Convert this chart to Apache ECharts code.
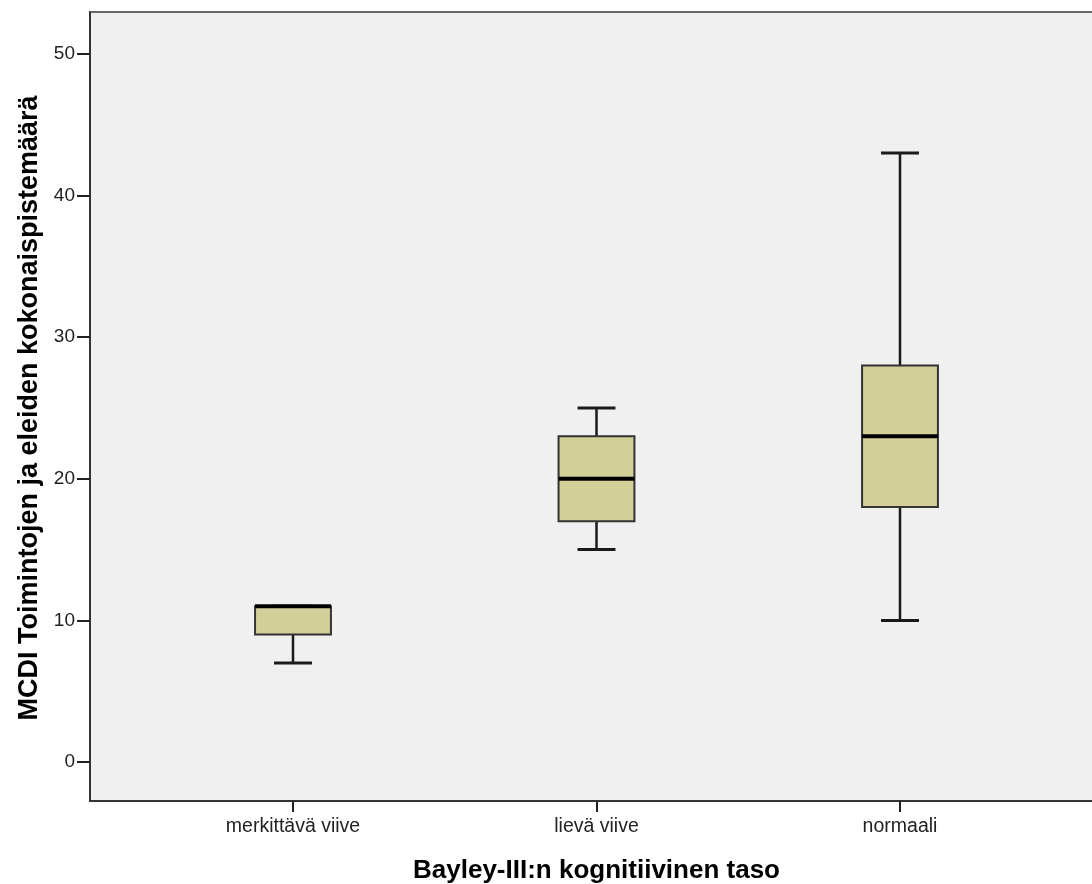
<!DOCTYPE html>
<html><head><meta charset="utf-8">
<script src="https://cdn.jsdelivr.net/npm/echarts@6/dist/echarts.min.js"></script>
<style>html,body{margin:0;padding:0;background:#fff}#c{width:1092px;height:884px}</style>
</head><body><div id="c"></div>
<script>
const categories = ['merkittävä viive', 'lievä viive', 'normaali'];
const whiskerLow = [7, 15, 10];
const quartile1 = [9, 17, 18];
const medians = [11, 20, 23];
const quartile3 = [11, 23, 28];
const whiskerHigh = [11, 25, 43];
const yMin = 0, yMax = 50, yStep = 10;
const xTitle = 'Bayley-III:n kognitiivinen taso';
const yTitle = 'MCDI Toimintojen ja eleiden kokonaispistemäärä';

const FONT = '"Liberation Sans", Arial, sans-serif';
const boxData = categories.map((c, i) => [i, whiskerLow[i], quartile1[i], medians[i], quartile3[i], whiskerHigh[i]]);

const chart = echarts.init(document.getElementById('c'), null, {renderer: 'canvas'});
chart.setOption({
  animation: false,
  backgroundColor: '#fff',
  grid: [
    {left: 90, right: -5, top: 12, bottom: 83, outerBoundsMode: 'none', containLabel: false, show: true, backgroundColor: '#F0F0F0', borderColor: '#6a6a6a', borderWidth: 2},
    {left: 141.25, right: 40.25, top: 54, bottom: 122, outerBoundsMode: 'none', containLabel: false}
  ],
  xAxis: [
    {gridIndex: 0, type: 'value', min: 0, max: 1, axisLine: {show: true, onZero: false, lineStyle: {color: '#333', width: 2}}, axisTick: {show: false}, axisLabel: {show: false}, splitLine: {show: false}},
    {gridIndex: 1, type: 'category', data: categories, offset: 39, position: 'bottom',
      axisLine: {show: true, onZero: false, lineStyle: {color: 'rgba(0,0,0,0)', width: 0}},
      axisTick: {show: true, alignWithLabel: true, inside: false, length: 11, lineStyle: {color: '#222', width: 2}},
      axisLabel: {fontSize: 19.5, color: '#222', margin: 16, fontFamily: FONT},
      splitLine: {show: false},
      name: xTitle, nameLocation: 'middle', nameGap: 57,
      nameTextStyle: {fontSize: 26, fontWeight: 'bold', color: '#000', fontFamily: FONT}}
  ],
  yAxis: [
    {gridIndex: 0, type: 'value', min: 0, max: 1, axisLine: {show: true, onZero: false, lineStyle: {color: '#333', width: 2}}, axisTick: {show: false}, axisLabel: {show: false}, splitLine: {show: false}},
    {gridIndex: 1, type: 'value', min: yMin, max: yMax, interval: yStep, offset: 51.25,
      axisLine: {show: false, onZero: false}, axisTick: {show: true, length: 13, lineStyle: {color: '#222', width: 2}},
      axisLabel: {fontSize: 19, color: '#222', margin: 15, fontFamily: FONT},
      splitLine: {show: false},
      name: yTitle, nameLocation: 'middle', nameRotate: 90, nameGap: 47,
      nameTextStyle: {fontSize: 27, fontWeight: 'bold', color: '#000', fontFamily: FONT}}
  ],
  series: [{
    type: 'custom',
    xAxisIndex: 1, yAxisIndex: 1,
    clip: false,
    encode: {x: 0, y: [1, 2, 3, 4, 5]},
    data: boxData,
    renderItem: function (params, api) {
      const i = api.value(0);
      const pLo = api.coord([i, api.value(1)]);
      const pQ1 = api.coord([i, api.value(2)]);
      const pMed = api.coord([i, api.value(3)]);
      const pQ3 = api.coord([i, api.value(4)]);
      const pHi = api.coord([i, api.value(5)]);
      const band = api.size([1, 0])[0];
      const bw = band * 0.25;
      const cw = bw / 2;
      const cx = pLo[0];
      const wStyle = {stroke: '#1a1a1a', lineWidth: 2.5};
      const cStyle = {stroke: '#1a1a1a', lineWidth: 3};
      return {
        type: 'group',
        children: [
          {type: 'line', shape: {x1: cx, y1: pLo[1], x2: cx, y2: pQ1[1]}, style: wStyle},
          {type: 'line', shape: {x1: cx, y1: pQ3[1], x2: cx, y2: pHi[1]}, style: wStyle},
          {type: 'line', shape: {x1: cx - cw / 2, y1: pLo[1], x2: cx + cw / 2, y2: pLo[1]}, style: cStyle},
          {type: 'line', shape: {x1: cx - cw / 2, y1: pHi[1], x2: cx + cw / 2, y2: pHi[1]}, style: cStyle},
          {type: 'rect', shape: {x: cx - bw / 2, y: pQ3[1], width: bw, height: pQ1[1] - pQ3[1]}, style: {fill: '#D3CF98', stroke: '#333', lineWidth: 2}},
          {type: 'line', shape: {x1: cx - bw / 2, y1: pMed[1], x2: cx + bw / 2, y2: pMed[1]}, style: {stroke: '#000', lineWidth: 4}}
        ]
      };
    }
  }]
});
</script></body></html>
